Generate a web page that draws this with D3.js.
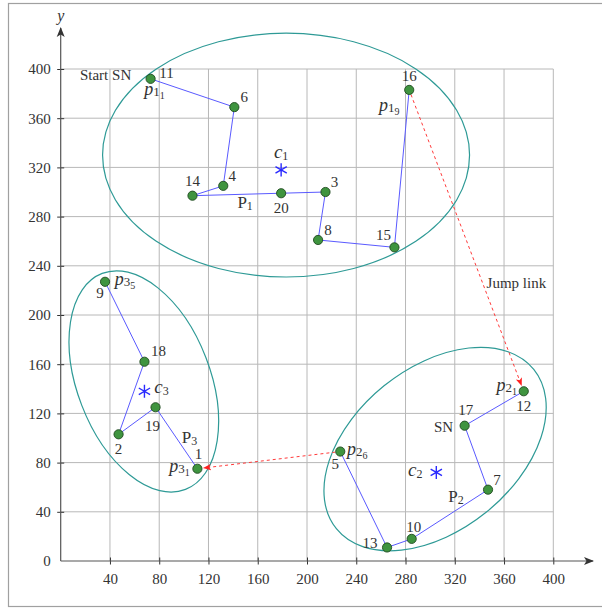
<!DOCTYPE html>
<html>
<head>
<meta charset="utf-8">
<script src="https://cdn.jsdelivr.net/npm/d3@7"></script>
<style>
  body { margin: 0; background: #fff; }
  svg text { font-family: "Liberation Serif", "Times New Roman", serif; fill: #333; }
</style>
</head>
<body>
<svg id="chart" width="602" height="608"></svg>
<script>
// point ids and coordinates
const pointIds = [11, 6, 4, 14, 20, 3, 8, 15, 16, 9, 18, 2, 19, 1, 12, 17, 7, 10, 13, 5];
const pointX   = [73, 141, 132, 107, 179, 215, 209, 271, 283, 36, 68, 47, 77, 111, 376, 328, 347, 285, 265, 227];
const pointY   = [392, 369, 305, 297, 299, 300, 261, 255, 383, 227, 162, 103, 125, 75, 138, 110, 58, 18, 11, 89];

// the three paths, in visiting order
const path1 = [11, 6, 4, 14, 20, 3, 8, 15, 16];
const path2 = [12, 17, 7, 10, 13, 5];
const path3 = [9, 18, 2, 19, 1];
const pathNames = ["1", "2", "3"];

// centroids c1..c3
const centroidNames = ["1", "2", "3"];
const centroidX = [179, 305, 68];
const centroidY = [318, 72, 138];

// cluster ellipses (centre, semi-axes in data units, tilt in degrees)
const ellipseCx = [183, 304, 67.5];
const ellipseCy = [330, 91, 146];
const ellipseRx = [149, 103, 94];
const ellipseRy = [99, 66, 54];
const ellipseTilt = [0, -38.9, 68.9];

// jump links (from -> to)
const jumpFrom = [16, 5];
const jumpTo = [12, 1];

// node annotations: [point id, base, sub1, sub2]
const pLabels = [[11, "p", "1", "1"], [16, "p", "1", "9"], [12, "p", "2", "1"], [5, "p", "2", "6"], [9, "p", "3", "5"], [1, "p", "3", "1"]];
const textLabels = [[11, "Start SN"], [17, "SN"]];

const xTicks = [40, 80, 120, 160, 200, 240, 280, 320, 360, 400];
const yTicks = [0, 40, 80, 120, 160, 200, 240, 280, 320, 360, 400];

const svg = d3.select("#chart");

const x = d3.scaleLinear().domain([0, 400]).range([60.7, 553.3]);
const y = d3.scaleLinear().domain([0, 400]).range([561, 69]);
const unit = x(1) - x(0);

const pts = new Map(pointIds.map((id, i) => [id, { id, x: pointX[i], y: pointY[i] }]));

// label offsets in pixels (layout only)
const numOffset = {
  11: [16, -6], 6: [10, -10], 4: [9, -10], 14: [0, -15], 20: [0, 15], 3: [9, -10], 8: [10, -10],
  15: [-11, -12], 16: [0, -14], 9: [-5, 11], 18: [14, -11], 2: [0, 15], 19: [-3, 19], 1: [1, -15],
  12: [0, 15], 17: [1, -16], 7: [9, -10], 10: [2, -12], 13: [-17, -4], 5: [-5, 12]
};
const pOffset = { 11: [4, 13], 16: [-20, 18], 12: [-17, -3], 5: [17, 0], 9: [20, 0], 1: [-18, 0] };
const textOffset = { 11: [-45, -4], 17: [-21, 1] };
const pathLabelAnchor = [[20, -36, 10], [7, -32, 7], [1, -8, -31]];
const centroidLabelOffset = [[0, -16], [-21, 0], [17, -2]];

svg.append("rect").attr("x", 8.5).attr("y", 3.5).attr("width", 610).attr("height", 603)
  .attr("fill", "none").attr("stroke", "#a0a0a0").attr("stroke-width", 1.2);

const defs = svg.append("defs");
defs.append("marker").attr("id", "axisArrow").attr("viewBox", "0 0 10 10")
  .attr("refX", 9).attr("refY", 5).attr("markerWidth", 10).attr("markerHeight", 10)
  .attr("markerUnits", "userSpaceOnUse").attr("orient", "auto")
  .append("path").attr("d", "M0,1 L10,5 L0,9 L2.5,5 Z").attr("fill", "#333");
defs.append("marker").attr("id", "redArrow").attr("viewBox", "0 0 10 10")
  .attr("refX", 9).attr("refY", 5).attr("markerWidth", 8).attr("markerHeight", 8)
  .attr("markerUnits", "userSpaceOnUse").attr("orient", "auto")
  .append("path").attr("d", "M0,1 L10,5 L0,9 L2.5,5 Z").attr("fill", "#ff2020");

// grid
const grid = svg.append("g").attr("stroke", "#b8b8b8").attr("stroke-width", 1);
grid.selectAll("line.v").data(xTicks).join("line")
  .attr("x1", d => x(d)).attr("x2", d => x(d)).attr("y1", y(0)).attr("y2", y(400));
grid.selectAll("line.h").data(yTicks.filter(d => d > 0)).join("line")
  .attr("x1", x(0)).attr("x2", x(400)).attr("y1", d => y(d)).attr("y2", d => y(d));

// axes
const xAxis = svg.append("g").attr("transform", `translate(0,${y(0)})`)
  .call(d3.axisBottom(x).tickValues(xTicks).tickSize(0).tickPadding(12));
const yAxis = svg.append("g").attr("transform", `translate(${x(0)},0)`)
  .call(d3.axisLeft(y).tickValues(yTicks).tickSize(0).tickPadding(10));
[xAxis, yAxis].forEach(a => {
  a.select(".domain").remove();
  a.selectAll("text").attr("font-size", 15).attr("fill", "#333")
    .attr("font-family", "Liberation Serif, serif");
});
xAxis.selectAll(".tick").append("line").attr("y1", -3.5).attr("y2", 3.5).attr("stroke", "#333");
yAxis.selectAll(".tick").filter(d => d > 0).append("line").attr("x1", -3.5).attr("x2", 3.5).attr("stroke", "#333");

svg.append("line").attr("x1", x(0)).attr("x2", 593).attr("y1", y(0)).attr("y2", y(0))
  .attr("stroke", "#555").attr("stroke-width", 1.2).attr("marker-end", "url(#axisArrow)");
svg.append("line").attr("x1", x(0)).attr("x2", x(0)).attr("y1", y(0)).attr("y2", 28)
  .attr("stroke", "#555").attr("stroke-width", 1.2).attr("marker-end", "url(#axisArrow)");
svg.append("text").attr("x", x(0)).attr("y", 21).attr("text-anchor", "middle")
  .attr("font-size", 16).attr("font-style", "italic").text("y");

// ellipses
svg.append("g").selectAll("ellipse").data(ellipseCx).join("ellipse")
  .attr("transform", (d, i) => `translate(${x(d)},${y(ellipseCy[i])}) rotate(${ellipseTilt[i]})`)
  .attr("rx", (d, i) => ellipseRx[i] * unit).attr("ry", (d, i) => ellipseRy[i] * unit)
  .attr("fill", "none").attr("stroke", "#2e9a96").attr("stroke-width", 1.2);

// paths
const line = d3.line().x(d => x(d.x)).y(d => y(d.y));
svg.append("g").selectAll("path").data([path1, path2, path3]).join("path")
  .attr("d", p => line(p.map(id => pts.get(id))))
  .attr("fill", "none").attr("stroke", "#5a5aff").attr("stroke-width", 1);

// jump links
jumpFrom.forEach((f, i) => {
  const a = pts.get(f), b = pts.get(jumpTo[i]);
  const ax = x(a.x), ay = y(a.y), bx = x(b.x), by = y(b.y);
  const len = Math.hypot(bx - ax, by - ay);
  const ux = (bx - ax) / len, uy = (by - ay) / len;
  svg.append("line")
    .attr("x1", ax + ux * 5).attr("y1", ay + uy * 5)
    .attr("x2", bx - ux * 6.5).attr("y2", by - uy * 6.5)
    .attr("stroke", "#ff3a3a").attr("stroke-width", 1).attr("stroke-dasharray", "3,3")
    .attr("marker-end", "url(#redArrow)");
});

// points
svg.append("g").selectAll("circle").data(pointIds.map(id => pts.get(id))).join("circle")
  .attr("cx", d => x(d.x)).attr("cy", d => y(d.y)).attr("r", 4.6)
  .attr("fill", "#3f943f").attr("stroke", "#1f4a1f").attr("stroke-width", 0.9);

// centroid stars
svg.append("g").selectAll("path").data(centroidX).join("path")
  .attr("transform", (d, i) => `translate(${x(d)},${y(centroidY[i])})`)
  .attr("d", d3.symbol(d3.symbolAsterisk, 120))
  .attr("fill", "none").attr("stroke", "#2a2aff").attr("stroke-width", 1.4);

// text labels
const lbl = svg.append("g").attr("font-size", 15);
const midText = (sel) => sel.attr("dominant-baseline", "central");

pointIds.forEach(id => {
  const p = pts.get(id), o = numOffset[id];
  lbl.append("text").attr("x", x(p.x) + o[0]).attr("y", y(p.y) + o[1])
    .attr("text-anchor", "middle").call(midText).text(id);
});

pLabels.forEach(([id, base, s1, s2]) => {
  const p = pts.get(id), o = pOffset[id];
  const t = lbl.append("text").attr("x", x(p.x) + o[0]).attr("y", y(p.y) + o[1] + 3)
    .attr("text-anchor", "middle").attr("font-size", 18);
  t.append("tspan").attr("font-style", "italic").text(base);
  t.append("tspan").attr("font-size", 13).attr("dy", 1).text(s1);
  t.append("tspan").attr("font-size", 10).attr("dy", 3).text(s2);
});

textLabels.forEach(([id, txt]) => {
  const p = pts.get(id), o = textOffset[id];
  lbl.append("text").attr("x", x(p.x) + o[0]).attr("y", y(p.y) + o[1])
    .attr("text-anchor", "middle").call(midText).text(txt);
});

pathLabelAnchor.forEach(([id, dx, dy], i) => {
  const p = pts.get(id);
  const t = lbl.append("text").attr("x", x(p.x) + dx).attr("y", y(p.y) + dy + 5)
    .attr("text-anchor", "middle").attr("font-size", 17);
  t.append("tspan").text("P");
  t.append("tspan").attr("font-size", 12).attr("dy", 2).text(pathNames[i]);
});

centroidX.forEach((cx, i) => {
  const o = centroidLabelOffset[i];
  const t = lbl.append("text").attr("x", x(cx) + o[0]).attr("y", y(centroidY[i]) + o[1] + 4)
    .attr("text-anchor", "middle").attr("font-size", 19);
  t.append("tspan").attr("font-style", "italic").text("c");
  t.append("tspan").attr("font-size", 12).attr("dy", 2).text(centroidNames[i]);
});

lbl.append("text").attr("x", x(370)).attr("y", y(226)).attr("text-anchor", "middle")
  .call(midText).text("Jump link");
</script>
</body>
</html>
